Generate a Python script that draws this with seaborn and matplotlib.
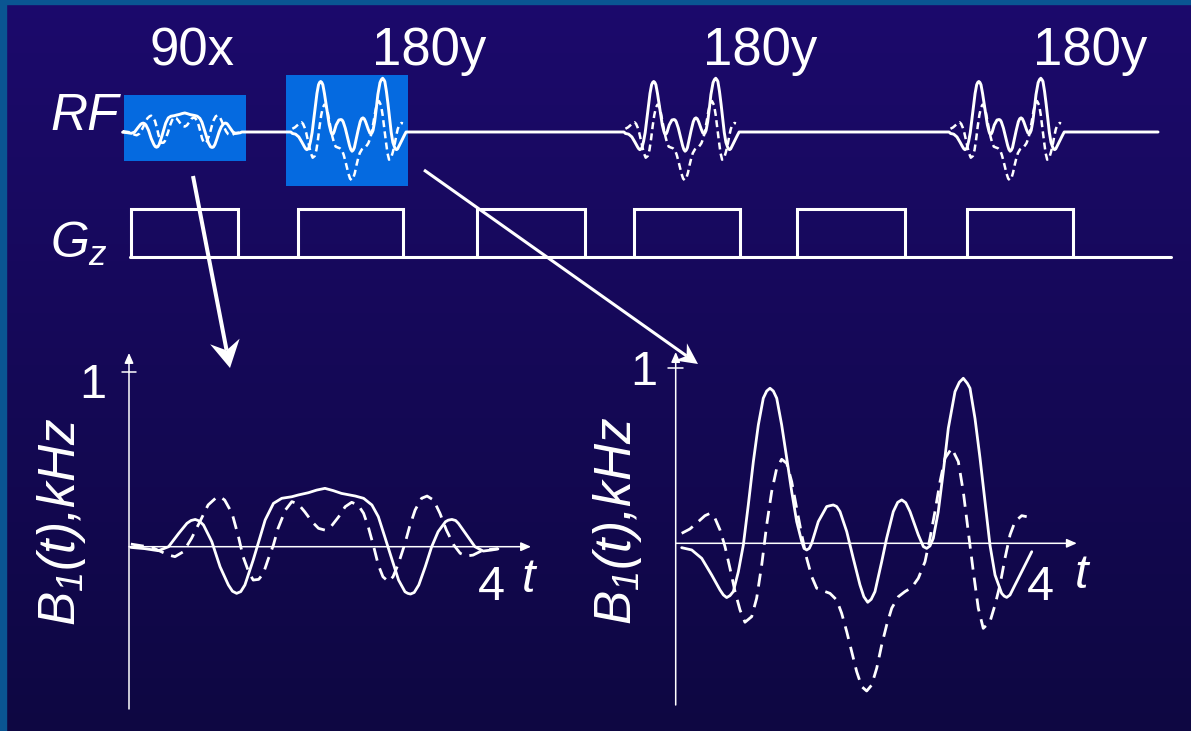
import numpy as np
import matplotlib
matplotlib.use("Agg")
import matplotlib.pyplot as plt
import seaborn as sns
from matplotlib.patches import Rectangle, Polygon

# ---------------------------------------------------------------------------
# RF pulse shapes: B1(t) in kHz, t in ms.  "_re" = x channel (solid),
# "_im" = y channel (dashed).
# ---------------------------------------------------------------------------
t90_re = [0.02, 0.17, 0.32, 0.43, 0.54, 0.63, 0.675, 0.72, 0.765, 0.81, 0.90, 0.99,
          1.08, 1.125, 1.17, 1.215, 1.26, 1.35, 1.41, 1.48, 1.57, 1.66, 1.77, 1.84,
          1.95, 2.04, 2.13, 2.22, 2.31, 2.46, 2.55, 2.64, 2.71, 2.78, 2.86, 2.93,
          3.00, 3.03, 3.06, 3.10, 3.15, 3.22, 3.29, 3.36, 3.44, 3.47, 3.51, 3.55,
          3.58, 3.67, 3.76, 3.85, 3.94, 4.01]
b90_re = [-0.004, -0.011, -0.023, 0.0, 0.076, 0.134, 0.150, 0.156, 0.147, 0.124,
          0.029, -0.115, -0.219, -0.255, -0.267, -0.257, -0.219, -0.076, 0.029, 0.153,
          0.248, 0.277, 0.286, 0.296, 0.309, 0.324, 0.334, 0.321, 0.305, 0.290,
          0.277, 0.239, 0.172, 0.057, -0.076, -0.191, -0.258, -0.267, -0.271, -0.262,
          -0.219, -0.115, 0.0, 0.086, 0.143, 0.152, 0.156, 0.150, 0.134, 0.067, 0.0,
          -0.025, -0.019, -0.013]

t90_im = [0.02, 0.25, 0.43, 0.50, 0.59, 0.68, 0.77, 0.86, 0.94, 0.99, 1.04, 1.12,
          1.19, 1.24, 1.30, 1.35, 1.41, 1.46, 1.51, 1.57, 1.62, 1.70, 1.77, 1.84,
          1.91, 1.99, 2.06, 2.13, 2.20, 2.28, 2.35, 2.42, 2.49, 2.55, 2.60, 2.66,
          2.71, 2.76, 2.82, 2.87, 2.93, 3.00, 3.05, 3.11, 3.18, 3.24, 3.31, 3.38,
          3.45, 3.53, 3.60, 3.67, 3.74, 3.85, 3.94, 4.01]
b90_im = [0.015, -0.004, -0.048, -0.057, -0.029, 0.048, 0.143, 0.239, 0.277, 0.286,
          0.267, 0.191, 0.057, -0.057, -0.143, -0.191, -0.187, -0.153, -0.076, 0.010,
          0.105, 0.210, 0.258, 0.244, 0.200, 0.143, 0.105, 0.095, 0.118, 0.172,
          0.229, 0.254, 0.239, 0.191, 0.115, 0.0, -0.105, -0.172, -0.200, -0.172,
          -0.095, 0.019, 0.115, 0.210, 0.277, 0.290, 0.267, 0.191, 0.095, 0.010,
          -0.038, -0.053, -0.048, -0.019, -0.015, -0.011]

t180_re = [0.065, 0.174, 0.283, 0.391, 0.482, 0.518, 0.554, 0.590, 0.626, 0.681,
           0.735, 0.789, 0.844, 0.898, 0.952, 0.989, 1.025, 1.061, 1.098, 1.152,
           1.207, 1.261, 1.315, 1.370, 1.395, 1.424, 1.452, 1.478, 1.550, 1.641,
           1.677, 1.713, 1.750, 1.786, 1.859, 1.930, 2.003, 2.045, 2.087, 2.125,
           2.166, 2.239, 2.293, 2.365, 2.413, 2.457, 2.500, 2.547, 2.637, 2.692,
           2.728, 2.764, 2.800, 2.854, 2.909, 2.963, 3.036, 3.083, 3.126, 3.170,
           3.199, 3.253, 3.308, 3.362, 3.416, 3.471, 3.543, 3.571, 3.598, 3.634,
           3.670, 3.761, 3.870]
b180_re = [-0.025, -0.038, -0.086, -0.181, -0.267, -0.295, -0.310, -0.299, -0.276,
           -0.162, -0.010, 0.219, 0.467, 0.676, 0.829, 0.870, 0.886, 0.870, 0.829,
           0.676, 0.486, 0.295, 0.124, 0.010, -0.029, -0.038, -0.029, 0.0, 0.124,
           0.210, 0.215, 0.219, 0.210, 0.181, 0.067, -0.086, -0.238, -0.305, -0.337,
           -0.320, -0.276, -0.105, 0.029, 0.181, 0.234, 0.248, 0.232, 0.181, 0.048,
           -0.019, -0.029, -0.015, 0.029, 0.181, 0.410, 0.657, 0.867, 0.920, 0.943,
           0.914, 0.886, 0.714, 0.486, 0.238, -0.010, -0.181, -0.286, -0.302, -0.309,
           -0.295, -0.257, -0.162, -0.048]

t180_im = [0.065, 0.155, 0.246, 0.318, 0.373, 0.427, 0.482, 0.536, 0.590, 0.645,
           0.699, 0.753, 0.826, 0.880, 0.935, 0.989, 1.043, 1.098, 1.152, 1.207,
           1.261, 1.315, 1.370, 1.424, 1.478, 1.533, 1.604, 1.677, 1.750, 1.804,
           1.859, 1.913, 1.967, 2.022, 2.076, 2.130, 2.185, 2.239, 2.293, 2.348,
           2.420, 2.492, 2.565, 2.637, 2.710, 2.764, 2.818, 2.873, 2.927, 3.000,
           3.072, 3.126, 3.180, 3.235, 3.289, 3.343, 3.416, 3.471, 3.525, 3.579,
           3.634, 3.688, 3.761, 3.815]
b180_im = [0.057, 0.082, 0.124, 0.158, 0.171, 0.143, 0.076, -0.019, -0.143, -0.276,
           -0.381, -0.451, -0.419, -0.314, -0.124, 0.105, 0.295, 0.429, 0.480, 0.457,
           0.352, 0.200, 0.048, -0.086, -0.190, -0.257, -0.272, -0.286, -0.324,
           -0.400, -0.505, -0.619, -0.733, -0.819, -0.844, -0.810, -0.714, -0.581,
           -0.467, -0.371, -0.305, -0.276, -0.253, -0.200, -0.105, 0.029, 0.181,
           0.352, 0.486, 0.543, 0.467, 0.295, 0.067, -0.162, -0.371, -0.486, -0.448,
           -0.352, -0.238, -0.086, 0.048, 0.124, 0.158, 0.152]

# ---------------------------------------------------------------------------
# Sequence timing (ms)
# ---------------------------------------------------------------------------
rf_labels = ["90x", "180y", "180y", "180y"]
rf_starts = [0.0, 5.71, 17.0, 28.02]
rf_end = 35.12
gz_on = [0.31, 5.97, 12.03, 17.36, 22.88, 28.64]
gz_off = [3.93, 9.53, 15.69, 20.95, 26.54, 32.24]
gz_start, gz_end = 0.27, 35.56

# ---------------------------------------------------------------------------
# Style
# ---------------------------------------------------------------------------
sns.set_theme(style="white")
plt.rcParams["font.family"] = ["Liberation Sans", "DejaVu Sans"]
plt.rcParams["mathtext.fontset"] = "custom"
plt.rcParams["mathtext.rm"] = "Liberation Sans:italic"
plt.rcParams["mathtext.it"] = "Liberation Sans:italic"
plt.rcParams["mathtext.sf"] = "Liberation Sans:italic"
plt.rcParams["lines.solid_joinstyle"] = "round"
plt.rcParams["lines.dash_joinstyle"] = "round"

W, H = 1191, 731
WHITE = "white"
BOX_BLUE = "#056ae0"
BORDER = "#0a5592"
BG_TOP = np.array([28, 10, 108]) / 255
BG_BOT = np.array([14, 7, 66]) / 255

fig = plt.figure(figsize=(W / 100, H / 100), dpi=100)


def frac_box(x0, y0, x1, y1):
    return [x0 / W, 1 - y1 / H, (x1 - x0) / W, (y1 - y0) / H]


def scaled_axes(box, ox, oy, sx, sy, z=1):
    """Axes over a pixel box whose data origin sits at pixel (ox, oy)."""
    ax = fig.add_axes(frac_box(*box), zorder=z)
    x0, y0, x1, y1 = box
    ax.set_xlim((x0 - ox) / sx, (x1 - ox) / sx)
    ax.set_ylim((oy - y1) / sy, (oy - y0) / sy)
    ax.set_axis_off()
    ax.patch.set_alpha(0)
    return ax


# background with a vertical gradient and a thin frame
bg = fig.add_axes([0, 0, 1, 1], zorder=-10)
g = np.linspace(0, 1, 400)[:, None, None]
bg.imshow(BG_TOP + (BG_BOT - BG_TOP) * g, extent=[0, W, H, 0], aspect="auto")
bg.set_xlim(0, W)
bg.set_ylim(H, 0)
bg.set_axis_off()
bg.add_patch(Rectangle((0, 0), W, 4, color=BORDER))
bg.add_patch(Rectangle((0, 0), 6, H, color=BORDER))

shapes = {
    "90x": (t90_re, b90_re, t90_im, b90_im),
    "180y": (t180_re, b180_re, t180_im, b180_im),
}

# ---------------------------------------------------------------------------
# RF row
# ---------------------------------------------------------------------------
SEQ_SX = 29.5
ax_rf = scaled_axes((100, 50, 1185, 205), 122, 132, SEQ_SX, 57.0, z=2)

# highlighted pulses (t range, B1 range)
highlight = [((0.07, 4.20), (-0.51, 0.65)), ((5.56, 9.69), (-0.95, 1.0))]
for (xa, xb), (ya, yb) in highlight:
    ax_rf.add_patch(Rectangle((xa, ya), xb - xa, yb - ya, color=BOX_BLUE, lw=0, zorder=1))

rf_t, rf_b = [], []
for start, kind in zip(rf_starts, rf_labels):
    tr, br, ti, bi = shapes[kind]
    if rf_t:
        rf_t.append(start + tr[0] - 0.05)
        rf_b.append(0.0)
    rf_t += [start + v for v in tr]
    rf_b += list(br)
    rf_t.append(start + tr[-1] + 0.05)
    rf_b.append(0.0)
    sns.lineplot(x=[start + v for v in ti], y=bi, ax=ax_rf, color=WHITE, lw=1.8,
                 estimator=None, sort=False, linestyle=(0, (2.8, 1.7)), zorder=3)
rf_t.append(rf_end)
rf_b.append(0.0)
sns.lineplot(x=rf_t, y=rf_b, ax=ax_rf, color=WHITE, lw=2.1, estimator=None,
             sort=False, zorder=4)

# ---------------------------------------------------------------------------
# Gz row: baseline plus rectangular lobes
# ---------------------------------------------------------------------------
ax_gz = scaled_axes((100, 195, 1185, 275), 122, 256.5, SEQ_SX, 47.5, z=2)
sns.lineplot(x=[gz_start, gz_end], y=[0.0, 0.0], ax=ax_gz, color=WHITE, lw=2.2,
             estimator=None, sort=False)
for on, off in zip(gz_on, gz_off):
    sns.lineplot(x=[on, on, off, off], y=[0.0, 1.0, 1.0, 0.0], ax=ax_gz,
                 color=WHITE, lw=2.2, estimator=None, sort=False)
for line in ax_gz.lines:
    line.set_solid_joinstyle("miter")


# ---------------------------------------------------------------------------
# Expanded pulse plots
# ---------------------------------------------------------------------------
def pulse_panel(box, ox, oy, sy, kind, y_lo, y_hi, x_hi):
    ax = scaled_axes(box, ox, oy, 92.0, sy, z=3)
    tr, br, ti, bi = shapes[kind]
    arrow = dict(arrowstyle="-|>,head_length=0.5,head_width=0.22", mutation_scale=12,
                 lw=1.1, color=WHITE, shrinkA=0, shrinkB=0)
    ax.annotate("", xy=(0, y_hi), xytext=(0, y_lo), arrowprops=arrow)
    ax.annotate("", xy=(x_hi, 0), xytext=(0, 0), arrowprops=arrow)
    ax.plot([-0.08, 0.08], [1, 1], color=WHITE, lw=1.1)
    sns.lineplot(x=ti, y=bi, ax=ax, color=WHITE, lw=2.0, estimator=None, sort=False,
                 linestyle=(0, (4.7, 2.9)))
    sns.lineplot(x=tr, y=br, ax=ax, color=WHITE, lw=2.0, estimator=None, sort=False)
    return ax


pulse_panel((90, 340, 560, 720), 129, 546.7, 174.7, "90x", -0.929, 1.109, 4.37)
pulse_panel((640, 340, 1110, 720), 675.7, 543.3, 175.0, "180y", -0.924, 1.093, 4.36)

# ---------------------------------------------------------------------------
# Text and pointers (pixel coordinates)
# ---------------------------------------------------------------------------
ov = fig.add_axes([0, 0, 1, 1], zorder=20)
ov.set_xlim(0, W)
ov.set_ylim(H, 0)
ov.set_axis_off()
ov.patch.set_alpha(0)

for x, s in zip([150, 372, 703, 1033], rf_labels):
    ov.text(x, 65, s, color=WHITE, fontsize=38, ha="left", va="baseline")
ov.text(50, 130, "RF", color=WHITE, fontsize=37, style="italic", ha="left", va="baseline")
ov.text(50, 258, "$G_z$", color=WHITE, fontsize=36, ha="left", va="baseline")

for cx, cy in [(61, 522), (618, 521)]:
    ov.text(cx, cy, "$B_1(t){,}kHz$", color=WHITE, fontsize=37, rotation=90,
            ha="center", va="center")
ov.text(106, 398, "1", color=WHITE, fontsize=35, ha="right", va="baseline")
ov.text(478, 600, "4", color=WHITE, fontsize=35, ha="left", va="baseline")
ov.text(522, 592, "t", color=WHITE, fontsize=35, style="italic", ha="left", va="baseline")
ov.text(657, 385, "1", color=WHITE, fontsize=35, ha="right", va="baseline")
ov.text(1027, 600, "4", color=WHITE, fontsize=35, ha="left", va="baseline")
ov.text(1075, 588, "t", color=WHITE, fontsize=35, style="italic", ha="left", va="baseline")


def pointer(p0, p1, lw, head_len, half_w, notch):
    """Straight pointer with a swept-back (stealth) head, pixel coordinates."""
    p0, p1 = np.asarray(p0, float), np.asarray(p1, float)
    u = (p1 - p0) / np.hypot(*(p1 - p0))
    n = np.array([-u[1], u[0]])
    back = p1 - head_len * u
    inner = p1 - (head_len - notch) * u
    ov.plot([p0[0], inner[0]], [p0[1], inner[1]], color=WHITE, lw=lw,
            solid_capstyle="butt")
    ov.add_patch(Polygon([p1, back + half_w * n, inner, back - half_w * n],
                         closed=True, color=WHITE, lw=0))


pointer((193, 176), (230, 368), 2.9, 27, 15, 9)
pointer((424, 170), (698, 364), 2.2, 21, 10.5, 7)

fig.savefig("out.png", dpi=100)
